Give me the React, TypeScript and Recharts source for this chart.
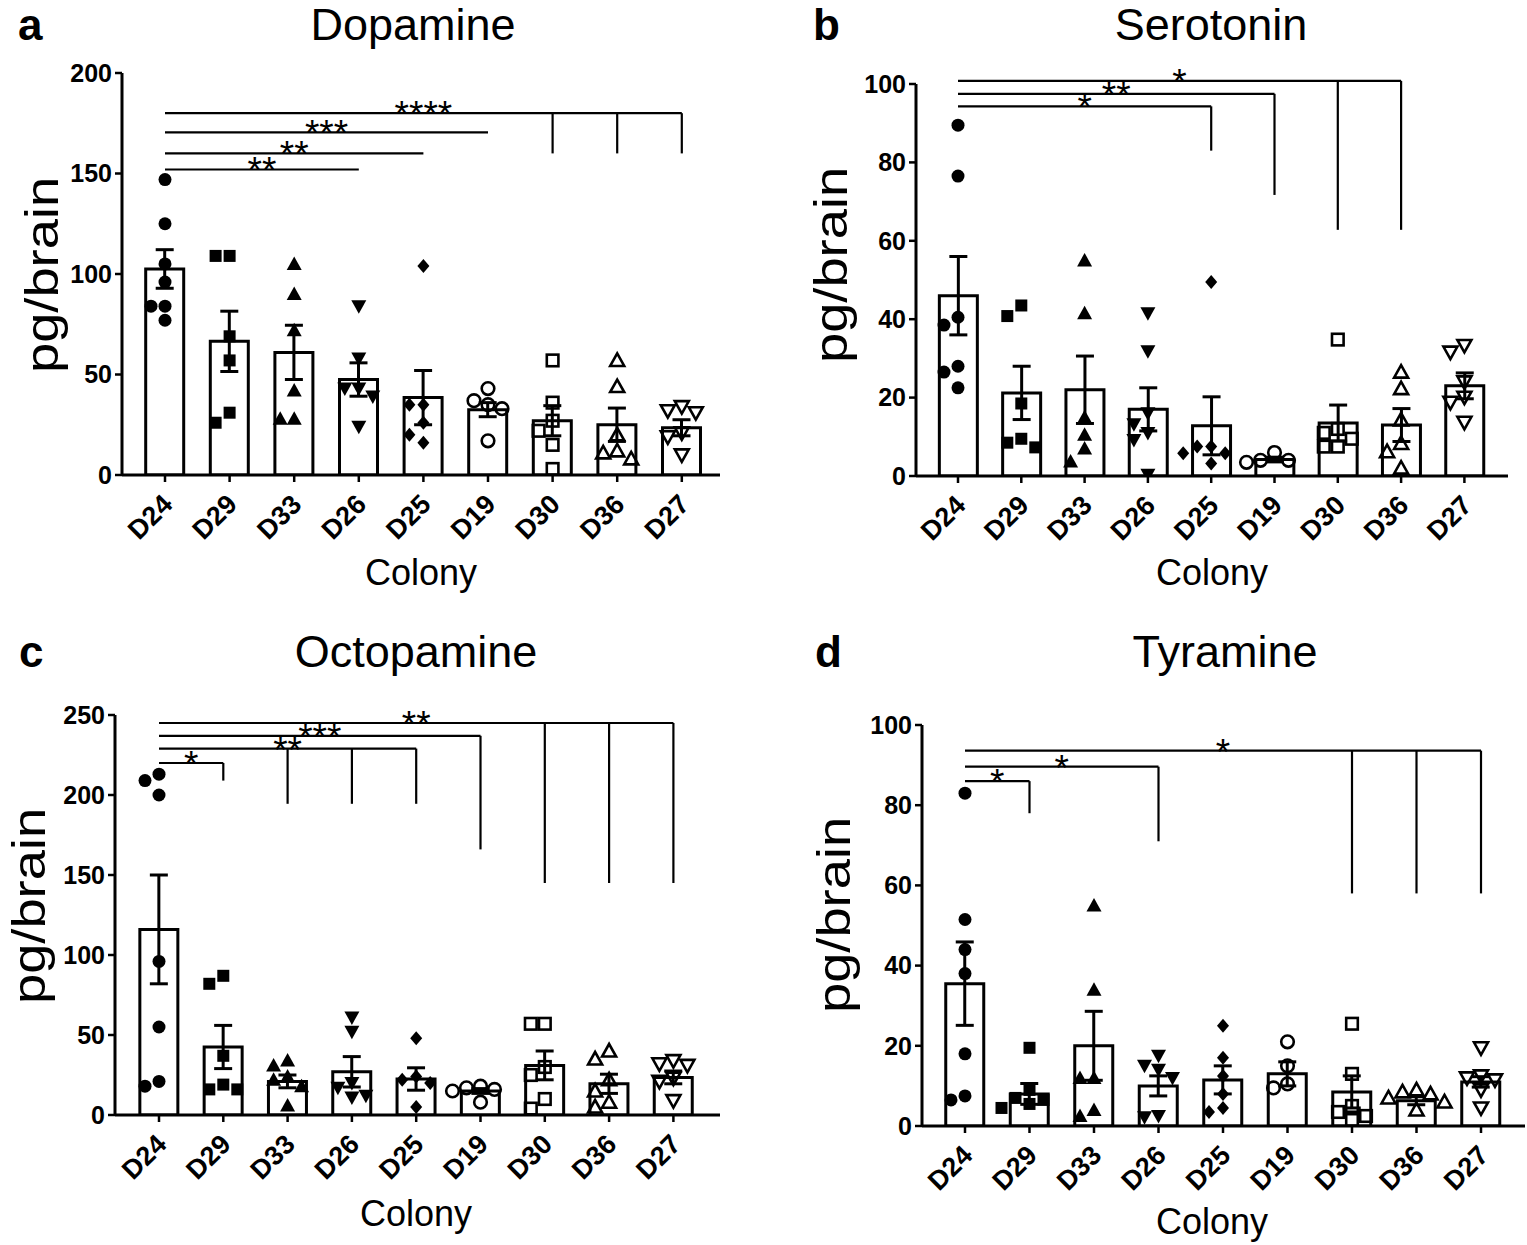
import React from 'react';
import { ComposedChart, Bar, ErrorBar, Scatter, XAxis, YAxis, ReferenceLine } from 'recharts';

const FONT = '"Liberation Sans", Arial, Helvetica, sans-serif';
const W = 1527;
const H = 1245;

const colonies = ['D24', 'D29', 'D33', 'D26', 'D25', 'D19', 'D30', 'D36', 'D27'];

// ---------- Dopamine ----------
const dopamineTicks = [0, 50, 100, 150, 200];
const dopamineMeans = [102.5, 66.5, 61, 47.5, 38.5, 32.5, 27, 25, 23.5];
const dopamineSem = [9.6, 15, 13.5, 8.3, 13.5, 3.5, 7.5, 8.3, 4];
const dopaminePoints = [
  [147, 125, 105, 96, 84, 84, 77],
  [109, 109, 69, 57, 31, 26],
  [105, 90, 72, 42, 28, 28],
  [84, 58, 43, 43, 39, 24],
  [104, 35, 35, 26, 20, 16],
  [43, 37, 35, 33, 17],
  [57, 36, 27, 22, 15, 3],
  [57, 44, 20, 12, 11, 8],
  [34, 32, 31, 21, 19, 10],
];
const dopamineBrackets = [
  { y: 152, to: 3, label: '**', drops: [] as number[], bottom: 152 },
  { y: 160, to: 4, label: '**', drops: [] as number[], bottom: 160 },
  { y: 170.5, to: 5, label: '***', drops: [] as number[], bottom: 170.5 },
  { y: 180, to: 8, label: '****', drops: [6, 7, 8], bottom: 160 },
];

// ---------- Serotonin ----------
const serotoninTicks = [0, 20, 40, 60, 80, 100];
const serotoninMeans = [46, 21.2, 22, 17, 12.8, 4.2, 13.5, 13, 23];
const serotoninSem = [10, 6.8, 8.6, 5.5, 7.4, 0.6, 4.6, 4.2, 3.3];
const serotoninPoints = [
  [89.5, 76.5, 40.5, 38.5, 28, 26.5, 22.5],
  [43.5, 40.8, 18.5, 9.5, 8.5, 7.3],
  [55, 41.5, 15, 10.5, 7, 3.7],
  [41.5, 31.8, 16, 13.2, 11, 9.2, 0.3],
  [49.5, 7.5, 7.5, 5.8, 5.8, 3.2],
  [6, 4, 4, 3.5],
  [34.8, 12, 11, 9.5, 7.5, 7.5],
  [26.5, 22.3, 14.3, 8.3, 6.2, 2],
  [33.3, 31.6, 24, 20.1, 18.8, 13.7],
];
const serotoninBrackets = [
  { y: 94.3, to: 4, label: '*', drops: [4], bottom: 83 },
  { y: 97.5, to: 5, label: '**', drops: [5], bottom: 71.7 },
  { y: 100.8, to: 7, label: '*', drops: [6, 7], bottom: 62.8 },
];

// ---------- Octopamine ----------
const octopamineTicks = [0, 50, 100, 150, 200, 250];
const octopamineMeans = [116, 42.5, 21, 27, 22.5, 15, 31, 19.5, 23.5];
const octopamineSem = [34, 13.5, 4, 9.5, 7, 1.5, 9, 6, 4];
const octopaminePoints = [
  [213, 209, 200, 96, 55, 21, 18],
  [87, 82, 37, 19, 16, 16],
  [34, 31, 24, 22, 18, 6],
  [61, 52, 20, 17, 12, 11],
  [48, 24, 22, 20, 5],
  [18, 17, 16, 15, 8],
  [57, 57, 30, 25, 10, 4],
  [40, 35, 22, 15, 8, 5],
  [34, 32, 31, 23, 21, 9],
];
const octopamineBrackets = [
  { y: 220, to: 1, label: '*', drops: [1], bottom: 209 },
  { y: 229, to: 4, label: '**', drops: [2, 3, 4], bottom: 194.5 },
  { y: 237, to: 5, label: '***', drops: [5], bottom: 166 },
  { y: 245, to: 8, label: '**', drops: [6, 7, 8], bottom: 145 },
];

// ---------- Tyramine ----------
const tyramineTicks = [0, 20, 40, 60, 80, 100];
const tyramineMeans = [35.5, 8, 20, 10, 11.5, 13, 8.5, 6.3, 11];
const tyramineSem = [10.4, 2.6, 8.6, 2.5, 3.5, 3, 4, 1, 1.3];
const tyraminePoints = [
  [83, 51.5, 44, 38, 18, 7.5, 6.5],
  [19.5, 9, 7, 6.5, 5.5, 4.5],
  [55, 34, 12, 12, 4, 2.5],
  [17.5, 15, 14, 12, 2.5, 2.2],
  [25, 17, 12.5, 8, 4.5, 3.5],
  [21, 15, 10.5, 9.5],
  [25.5, 13, 5, 3.5, 2.5, 1.5],
  [9, 8.5, 8, 7, 6, 4],
  [19.5, 12.5, 12, 11.5, 9, 4.5],
];
const tyramineBrackets = [
  { y: 86, to: 1, label: '*', drops: [1], bottom: 78 },
  { y: 89.6, to: 3, label: '*', drops: [3], bottom: 71 },
  { y: 93.6, to: 8, label: '*', drops: [6, 7, 8], bottom: 58 },
];

// ---------- helpers ----------
const STEP = 14;
const MIN_D = 13;

function swarm(groups: number[][], pxY: number, pxX: number) {
  const out: { x: number; v: number; g: number }[] = [];
  groups.forEach((vals, gi) => {
    const placed: { dx: number; py: number }[] = [];
    const sorted = [...vals].sort((a, b) => b - a);
    sorted.forEach((v) => {
      const py = v * pxY;
      let chosen = 0;
      for (const k of [0, -1, 1, -2, 2, -3, 3]) {
        const dx = k * STEP;
        if (placed.every((p) => Math.hypot(p.dx - dx, p.py - py) >= MIN_D)) {
          chosen = dx;
          break;
        }
      }
      placed.push({ dx: chosen, py });
      out.push({ x: gi + chosen / pxX, v, g: gi });
    });
  });
  return out;
}

const renderMarker = (props: any) => {
  const { cx, cy, payload } = props;
  if (cx == null || cy == null || !payload) return <g />;
  const g = payload.g;
  const sw = 2.6;
  switch (g) {
    case 0:
      return <circle cx={cx} cy={cy} r={6.5} fill="#000" />;
    case 1:
      return <rect x={cx - 6} y={cy - 6} width={12} height={12} fill="#000" />;
    case 2:
      return <polygon points={`${cx},${cy - 7.5} ${cx - 7.5},${cy + 6} ${cx + 7.5},${cy + 6}`} fill="#000" />;
    case 3:
      return <polygon points={`${cx},${cy + 7.5} ${cx - 7.5},${cy - 6} ${cx + 7.5},${cy - 6}`} fill="#000" />;
    case 4:
      return <polygon points={`${cx},${cy - 7} ${cx - 6},${cy} ${cx},${cy + 7} ${cx + 6},${cy}`} fill="#000" />;
    case 5:
      return <circle cx={cx} cy={cy} r={6.3} fill="none" stroke="#000" strokeWidth={sw} />;
    case 6:
      return <rect x={cx - 5.8} y={cy - 5.8} width={11.6} height={11.6} fill="none" stroke="#000" strokeWidth={sw} />;
    case 7:
      return <polygon points={`${cx},${cy - 7} ${cx - 7},${cy + 5.5} ${cx + 7},${cy + 5.5}`} fill="none" stroke="#000" strokeWidth={sw} strokeLinejoin="miter" />;
    default:
      return <polygon points={`${cx},${cy + 7} ${cx - 7},${cy - 5.5} ${cx + 7},${cy - 5.5}`} fill="none" stroke="#000" strokeWidth={sw} strokeLinejoin="miter" />;
  }
};

const XTick = (props: any) => {
  const { x, y, payload } = props;
  const ax = x + 9;
  const ay = y + 24;
  return (
    <text
      x={ax}
      y={ay}
      transform={`rotate(-45 ${ax} ${ay})`}
      textAnchor="end"
      fontSize={27}
      fontWeight="bold"
      fontFamily={FONT}
      fill="#000"
    >
      {colonies[payload.value]}
    </text>
  );
};

type PanelCfg = {
  left: number;
  right: number;
  top: number;
  bottom: number;
  x0: number;
  step: number;
  ticks: number[];
  means: number[];
  sems: number[];
  points: number[][];
  brackets: { y: number; to: number; label: string; drops: number[]; bottom: number }[];
};

function Panel({ cfg }: { cfg: PanelCfg }) {
  const { left, right, top, bottom, x0, step, ticks, means, sems, points, brackets } = cfg;
  const max = ticks[ticks.length - 1];
  const xmin = (left - x0) / step;
  const xmax = (right - x0) / step;
  const pxY = (bottom - top) / max;
  const data = colonies.map((c, i) => ({ x: i, name: c, mean: means[i], sem: sems[i] }));
  const pts = swarm(points, pxY, step);
  const YW = 100;
  const XH = 100;
  const lineStyle = { stroke: '#000', strokeWidth: 2.2 };
  return (
    <div style={{ position: 'absolute', left: 0, top: 0 }}>
      <ComposedChart
        width={W}
        height={H}
        data={data}
        margin={{ top, right: W - right, left: left - YW, bottom: H - bottom - XH }}
      >
        <XAxis
          type="number"
          dataKey="x"
          domain={[xmin, xmax]}
          allowDataOverflow
          ticks={[0, 1, 2, 3, 4, 5, 6, 7, 8]}
          interval={0}
          height={XH}
          tickSize={7}
          tickMargin={0}
          axisLine={{ stroke: '#000', strokeWidth: 3 }}
          tickLine={{ stroke: '#000', strokeWidth: 2.5 }}
          tick={<XTick />}
        />
        <XAxis xAxisId="pts" type="number" dataKey="x" domain={[xmin, xmax]} allowDataOverflow hide />
        <YAxis
          type="number"
          domain={[0, max]}
          allowDataOverflow
          ticks={ticks}
          interval={0}
          width={YW}
          tickSize={7}
          tickMargin={3}
          axisLine={{ stroke: '#000', strokeWidth: 3 }}
          tickLine={{ stroke: '#000', strokeWidth: 2.5 }}
          tick={{ fill: '#000', fontSize: 25, fontWeight: 'bold', fontFamily: FONT }}
        />
        <Bar dataKey="mean" barSize={38} fill="#fff" stroke="#000" strokeWidth={3} isAnimationActive={false}>
          <ErrorBar dataKey="sem" width={9} strokeWidth={3} stroke="#000" direction="y" />
        </Bar>
        <Scatter xAxisId="pts" data={pts} dataKey="v" shape={renderMarker} isAnimationActive={false} />
        {brackets.map((b, bi) => (
          <ReferenceLine
            key={`h${bi}`}
            segment={[{ x: 0, y: b.y }, { x: b.to, y: b.y }]}
            {...lineStyle}
            ifOverflow="visible"
            label={{ value: b.label, position: 'top', offset: -14, fontSize: 37, fill: '#000', fontFamily: FONT }}
          />
        ))}
        {brackets.flatMap((b, bi) =>
          b.drops.map((d) => (
            <ReferenceLine
              key={`d${bi}-${d}`}
              segment={[{ x: d, y: b.y }, { x: d, y: b.bottom }]}
              {...lineStyle}
              ifOverflow="visible"
            />
          ))
        )}
      </ComposedChart>
    </div>
  );
}

const panels: PanelCfg[] = [
  { left: 122, right: 720, top: 73, bottom: 475, x0: 165, step: 64.6, ticks: dopamineTicks, means: dopamineMeans, sems: dopamineSem, points: dopaminePoints, brackets: dopamineBrackets },
  { left: 916, right: 1508, top: 84, bottom: 476, x0: 958, step: 63.3, ticks: serotoninTicks, means: serotoninMeans, sems: serotoninSem, points: serotoninPoints, brackets: serotoninBrackets },
  { left: 115, right: 720, top: 715, bottom: 1115, x0: 159, step: 64.3, ticks: octopamineTicks, means: octopamineMeans, sems: octopamineSem, points: octopaminePoints, brackets: octopamineBrackets },
  { left: 922, right: 1525, top: 725, bottom: 1126, x0: 965, step: 64.5, ticks: tyramineTicks, means: tyramineMeans, sems: tyramineSem, points: tyraminePoints, brackets: tyramineBrackets },
];

const letters = [
  { t: 'a', x: 18, y: 40 },
  { t: 'b', x: 813, y: 40 },
  { t: 'c', x: 19, y: 667 },
  { t: 'd', x: 815, y: 667 },
];
const titles = [
  { t: 'Dopamine', x: 413, y: 40 },
  { t: 'Serotonin', x: 1211, y: 40 },
  { t: 'Octopamine', x: 416, y: 667 },
  { t: 'Tyramine', x: 1225, y: 667 },
];
const yLabels = [
  { x: 46, y: 275 },
  { x: 835, y: 265 },
  { x: 33, y: 906 },
  { x: 838, y: 915 },
];
const xLabels = [
  { x: 421, y: 585 },
  { x: 1212, y: 585 },
  { x: 416, y: 1226 },
  { x: 1212, y: 1234 },
];

export default function App() {
  return (
    <div style={{ position: 'absolute', left: 0, top: 0, width: W, height: H, background: '#fff', overflow: 'hidden' }}>
      {panels.map((p, i) => (
        <Panel key={i} cfg={p} />
      ))}
      <svg width={W} height={H} style={{ position: 'absolute', left: 0, top: 0, pointerEvents: 'none' }} fontFamily={FONT}>
        {letters.map((l) => (
          <text key={l.t} x={l.x} y={l.y} fontSize={44} fontWeight="bold" fill="#000">
            {l.t}
          </text>
        ))}
        {titles.map((t) => (
          <text key={t.t} x={t.x} y={t.y} fontSize={45} textAnchor="middle" fill="#000">
            {t.t}
          </text>
        ))}
        {yLabels.map((l, i) => (
          <text
            key={`y${i}`}
            transform={`translate(${l.x + 12},${l.y}) rotate(-90) scale(1.18,1)`}
            fontSize={46}
            textAnchor="middle"
            fill="#000"
          >
            pg/brain
          </text>
        ))}
        {xLabels.map((l, i) => (
          <text key={`x${i}`} x={l.x} y={l.y} fontSize={36} textAnchor="middle" fill="#000">
            Colony
          </text>
        ))}
      </svg>
    </div>
  );
}
